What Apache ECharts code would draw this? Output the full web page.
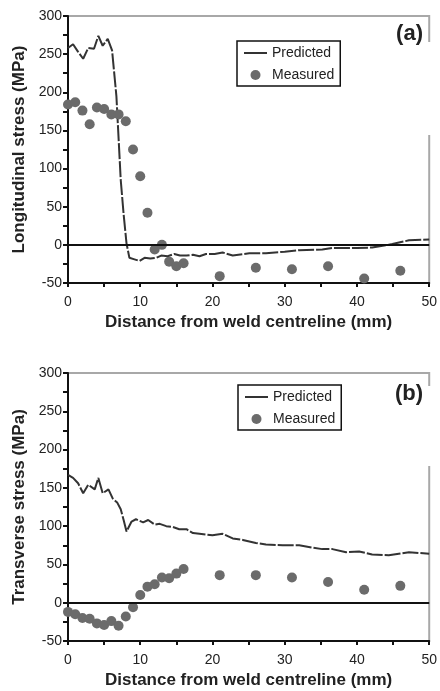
<!DOCTYPE html>
<html><head><meta charset="utf-8">
<script src="https://cdn.jsdelivr.net/npm/echarts@6/dist/echarts.min.js"></script>
<style>html,body{margin:0;padding:0;background:#fff}#c{width:440px;height:691px}</style>
</head><body><div id="c"></div>
<script>
// ---- data ----
const xTicks = [0, 10, 20, 30, 40, 50];
const yTicks = [-50, 0, 50, 100, 150, 200, 250, 300];

// (a) Longitudinal stress
const predAX = [0,0.7,1.4,2.1,2.8,3.6,4.2,4.8,5.5,6.1,6.7,7.3,7.7,8.1,8.5,9.2,9.9,10.6,11.4,12.2,12.9,13.8,14.7,15.5,16.4,17.3,18.2,19.1,20.3,21.4,22.8,25.1,27.4,30,32,35.2,36.6,40,42.1,44.9,47.2,50];
const predAY = [258,263,253,244,258,257,274,261,270,255,195,85,40,2,-17,-19,-21,-17,-18,-17,-14,-15,-12,-14,-14,-13,-15,-12,-12,-10,-14,-11,-11,-9,-7,-6,-4,-4,-3.5,1,6,7];
const measAX = [0,1,2,3,4,5,6,7,8,9,10,11,12,13,14,15,16,21,26,31,36,41,46];
const measAY = [184,187,176,158,180,178,171,171,162,125,90,42,-6,0,-22,-28,-24,-41,-30,-32,-28,-44,-34];

// (b) Transverse stress
const predBX = [0,0.7,1.4,2.1,2.8,3.7,4.2,4.8,5.6,6.2,6.8,7.3,7.7,8.1,8.8,9.4,10.4,11.1,12,12.7,13.6,14.5,15.4,16.4,17.3,18.2,20,21.4,22.8,24.2,26,27.4,29.7,32,33.8,35.2,36.6,38.5,40.3,42.1,44.4,47.2,50];
const predBY = [167,163,156,143,154,148,163,143,148,136,131,122,108,93,106,109,105,108,102,103,100,99,96,96,91,90,88,90,84,82,78,76,75,75,72,70,70,66,67,63,62,66,64];
const measBX = [0,1,2,3,4,5,6,7,8,9,10,11,12,13,14,15,16,21,26,31,36,41,46];
const measBY = [-12,-15,-20,-21,-27,-29,-24,-30,-18,-6,10,21,24,33,32,38,44,36,36,33,27,17,22];

const panels = [
  {label: '(a)', yName: 'Longitudinal stress (MPa)'},
  {label: '(b)', yName: 'Transverse stress (MPa)'}
];
const xName = 'Distance from weld centreline (mm)';
const seriesNames = ['Predicted', 'Measured'];

const zip = (xs, ys) => xs.map((x, i) => [x, ys[i]]);

// ---- layout / style ----
const FONT = '"Liberation Sans", Arial, sans-serif';
const grids = [
  {left: 68, right: 10, top: 16, height: 267},
  {left: 68, right: 10, top: 373, height: 268}
];
const legendPos = [{left: 237, top: 41}, {left: 238, top: 385}];

const option = {
  animation: false,
  backgroundColor: '#fff',
  grid: grids.map(g => Object.assign({show: true, borderColor: '#a8a8a8', borderWidth: 2, backgroundColor: 'transparent'}, g)),
  xAxis: grids.map((g, i) => ({
    gridIndex: i, type: 'value', min: xTicks[0], max: xTicks[xTicks.length - 1], interval: xTicks[1] - xTicks[0],
    name: xName, nameLocation: 'middle', nameGap: 31,
    nameTextStyle: {fontFamily: FONT, fontWeight: 'bold', fontSize: 17, color: '#222'},
    axisLine: {show: true, onZero: false, lineStyle: {color: '#111', width: 2}},
    axisTick: {show: true, length: 4, lineStyle: {color: '#111', width: 2}},
    minorTick: {show: true, splitNumber: 2, length: 4, lineStyle: {color: '#111', width: 2}},
    axisLabel: {fontFamily: FONT, fontSize: 14, color: '#222', margin: 12},
    splitLine: {show: false}
  })),
  yAxis: grids.map((g, i) => ({
    gridIndex: i, type: 'value', min: yTicks[0], max: yTicks[yTicks.length - 1], interval: yTicks[1] - yTicks[0],
    name: panels[i].yName, nameLocation: 'middle', nameGap: 38,
    nameTextStyle: {fontFamily: FONT, fontWeight: 'bold', fontSize: 17, color: '#222'},
    axisLine: {show: true, onZero: false, lineStyle: {color: '#111', width: 2}},
    axisTick: {show: true, length: 5, lineStyle: {color: '#111', width: 2}},
    minorTick: {show: true, splitNumber: 2, length: 5, lineStyle: {color: '#111', width: 2}},
    axisLabel: {fontFamily: FONT, fontSize: 14, color: '#222', margin: 6},
    splitLine: {show: false}
  })),
  legend: legendPos.map(p => ({
    data: [{name: seriesNames[0], itemStyle: {opacity: 0}}, {name: seriesNames[1]}],
    orient: 'vertical', left: p.left, top: p.top,
    itemWidth: 23, itemHeight: 10, itemGap: 8, padding: [5, 6, 4, 6],
    borderColor: '#111', borderWidth: 1.5, backgroundColor: '#fff',
    textStyle: {fontFamily: FONT, fontSize: 14, color: '#222'},
    lineStyle: {type: 'solid'},
    selectedMode: false
  })),
  series: [
    {name: seriesNames[0], type: 'line', xAxisIndex: 0, yAxisIndex: 0, data: zip(predAX, predAY), symbol: 'none',
      lineStyle: {color: '#333', width: 2, type: [16, 2]}, itemStyle: {color: '#333'}, z: 2,
      markLine: {silent: true, symbol: ['none', 'none'], label: {show: false}, lineStyle: {color: '#111', width: 2, type: 'solid'}, data: [{yAxis: 0}]}},
    {name: seriesNames[1], type: 'scatter', xAxisIndex: 0, yAxisIndex: 0, data: zip(measAX, measAY), symbol: 'circle', symbolSize: 10,
      itemStyle: {color: '#6b6b6b', opacity: 1}, z: 3, clip: false},
    {name: seriesNames[0], type: 'line', xAxisIndex: 1, yAxisIndex: 1, data: zip(predBX, predBY), symbol: 'none',
      lineStyle: {color: '#333', width: 2, type: [16, 2]}, itemStyle: {color: '#333'}, z: 2,
      markLine: {silent: true, symbol: ['none', 'none'], label: {show: false}, lineStyle: {color: '#111', width: 2, type: 'solid'}, data: [{yAxis: 0}]}},
    {name: seriesNames[1], type: 'scatter', xAxisIndex: 1, yAxisIndex: 1, data: zip(measBX, measBY), symbol: 'circle', symbolSize: 10,
      itemStyle: {color: '#6b6b6b', opacity: 1}, z: 3, clip: false}
  ],
  graphic: [
    {type: 'rect', shape: {x: 426, y: 42, width: 8, height: 93}, style: {fill: '#fff'}, z: 100, silent: true},
    {type: 'rect', shape: {x: 426, y: 386, width: 8, height: 80}, style: {fill: '#fff'}, z: 100, silent: true},
    {type: 'text', x: 423, y: 34, z: 101, style: {text: panels[0].label, font: 'bold 22px ' + FONT, fill: '#222', textAlign: 'right', textVerticalAlign: 'middle'}},
    {type: 'text', x: 423, y: 394, z: 101, style: {text: panels[1].label, font: 'bold 22px ' + FONT, fill: '#222', textAlign: 'right', textVerticalAlign: 'middle'}}
  ]
};

const chart = echarts.init(document.getElementById('c'), null, {renderer: 'canvas'});
chart.setOption(option);
</script>
</body></html>
